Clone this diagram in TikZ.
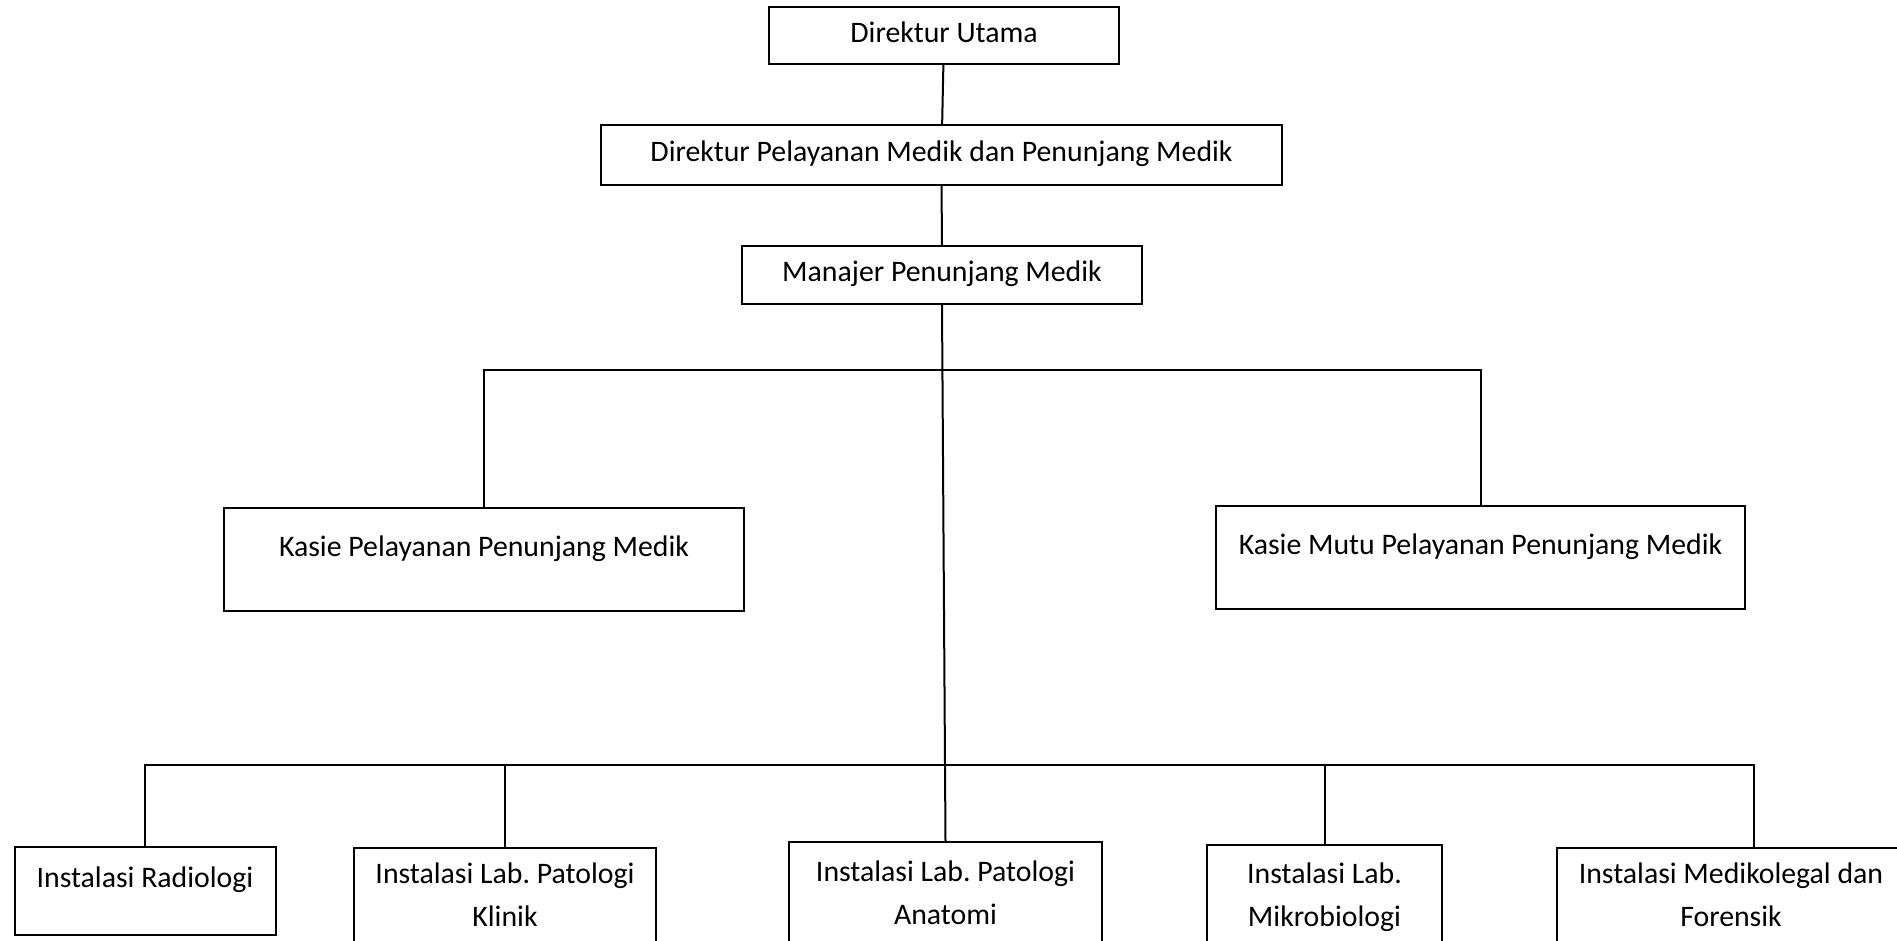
\documentclass[tikz,border=0pt]{standalone}
\usepackage{fontspec}
\setmainfont{Carlito}
\begin{document}
\frenchspacing
\begin{tikzpicture}[x=0.5pt,y=-0.5pt,
    orgbox/.style={draw,line width=1pt,inner sep=0pt,font=\fontsize{14.9}{21.5}\selectfont},
    unit/.style={orgbox,text height=10.5pt,text depth=3.5pt},
    inst/.style={orgbox,anchor=north,align=flush center,inner ysep=7.5pt}]
    \useasboundingbox (0,0) rectangle (1897,941);
    \clip (0,0) rectangle (1897,941);

    % pimpinan
    \node[unit,minimum width=175pt,minimum height=28.5pt] (dirut) at (944,35.5) {Direktur Utama};
    \node[unit,minimum width=340.5pt,minimum height=30pt] (dirpel) at (941.5,155) {Direktur Pelayanan Medik dan Penunjang Medik};
    \node[unit,minimum width=200pt,minimum height=29pt] (man) at (942,275) {Manajer Penunjang Medik};

    % kasie
    \node[unit,text depth=13.5pt,minimum width=260pt,minimum height=51.5pt] (kpel) at (484,559.5) {Kasie Pelayanan Penunjang Medik};
    \node[unit,text depth=13.5pt,minimum width=264.5pt,minimum height=51.5pt] (kmutu) at (1480.5,557.5) {Kasie Mutu Pelayanan Penunjang Medik};

    % instalasi
    \node[unit,text depth=14.5pt,minimum width=130.5pt,minimum height=44pt] (rad) at (145,891) {Instalasi Radiologi};
    \node[inst,text width=151pt] (klin) at (505,847) {Instalasi Lab. Patologi\\Klinik};
    \node[inst,text width=156.5pt,inner ysep=9.5pt] (anat) at (945.5,841) {Instalasi Lab. Patologi\\Anatomi};
    \node[inst,text width=117.5pt,inner ysep=9pt] (mikro) at (1324.5,844) {Instalasi Lab.\\Mikrobiologi};
    \node[inst,text width=174pt] (fore) at (1731,847) {Instalasi Medikolegal dan\\Forensik};

    \coordinate (busA) at (944,370);
    \coordinate (busB) at (944,765);

    \draw[line width=1pt] (dirut) -- (dirpel);
    \draw[line width=1pt] (dirpel) -- (man);
    \draw[line width=1pt] (man.south) -- (anat.north);
    \draw[line width=1pt] (kpel.north) |- (busA) -| (kmutu.north);
    \draw[line width=1pt] (rad.north) |- (busB) -| ([xshift=11.5pt]fore.north);
    \foreach \n in {klin,mikro}
        \draw[line width=1pt] (\n.north) -- (\n.north |- busB);
\end{tikzpicture}
\end{document}
